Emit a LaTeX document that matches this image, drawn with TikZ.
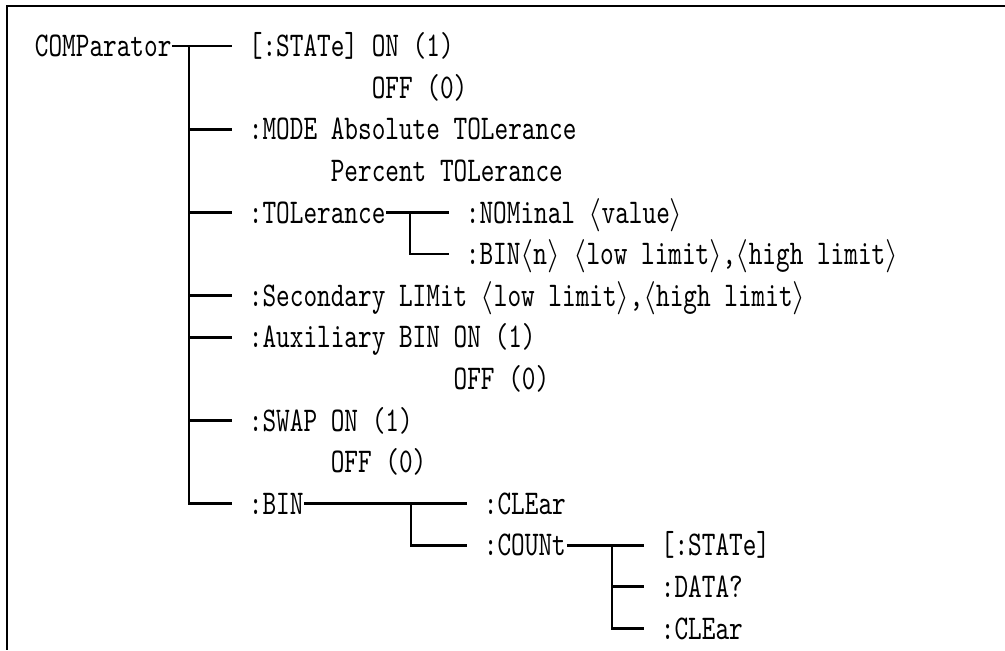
\documentclass[tikz,border=0pt]{standalone}
\usepackage{fontspec}
\newfontfamily\scpifont{lmmono10-regular.otf}[FakeStretch=0.75]
\usetikzlibrary{positioning}
\newcommand{\angl}{\ensuremath{\langle}}
\newcommand{\angr}{\ensuremath{\rangle}}
\tikzset{
  cmd/.style={
    font = \scpifont\fontsize{26pt}{30pt}\selectfont,
    anchor = west,
    inner xsep = 0.5pt,
    inner ysep = 0pt,
    text height = 16pt,
    text depth = 0pt
  },
  branch/.style={
    line width = 2pt,
    shorten > = 12pt
  },
  frame/.style={
    line width = 1.5pt
  }
}

\begin{document}
\begin{tikzpicture}[x=0.75pt, y=-0.75pt]
    \def\dy{41.6}
    \useasboundingbox (0,0) rectangle (1005,650);
    \draw[frame] (1005,6) -- (7,6) -- (7,650);

    \node[cmd] (comp) at (34, 46) {COMParator};
    \node[cmd] (state) at (248, 46) {[:STATe] ON (1)};
    \node[cmd] (off1) at (248, 46+\dy) {\phantom{[:STATe] }OFF (0)};
    \node[cmd] (mode) at (248, 46+2*\dy) {:MODE Absolute TOLerance};
    \node[cmd] (pct) at (248, 46+3*\dy) {\phantom{:MODE }Percent TOLerance};
    \node[cmd] (tol) at (248, 46+4*\dy) {:TOLerance};
    \node[cmd] (nom) at (465, 46+4*\dy) {:NOMinal \angl value\angr};
    \node[cmd] (binn) at (465, 46+5*\dy) {:BIN\angl n\angr\ \angl low limit\angr,\angl high limit\angr};
    \node[cmd] (sec) at (248, 46+6*\dy) {:Secondary LIMit \angl low limit\angr,\angl high limit\angr};
    \node[cmd] (aux) at (248, 46+7*\dy) {:Auxiliary BIN ON (1)};
    \node[cmd] (off2) at (248, 46+8*\dy) {\phantom{:Auxiliary BIN }OFF (0)};
    \node[cmd] (swap) at (248, 46+9*\dy) {:SWAP ON (1)};
    \node[cmd] (off3) at (248, 46+10*\dy) {\phantom{:SWAP }OFF (0)};
    \node[cmd] (bin) at (248, 46+11*\dy) {:BIN};
    \node[cmd] (clr) at (483, 46+11*\dy) {:CLEar};
    \node[cmd] (cnt) at (483, 46+12*\dy) {:COUNt};
    \node[cmd] (stat) at (660, 46+12*\dy) {[:STATe]};
    \node[cmd] (data) at (660, 46+13*\dy) {:DATA?};
    \node[cmd] (clr2) at (660, 46+14*\dy) {:CLEar};

    \coordinate (trunk) at (189, 46);
    \coordinate (tolfork) at (410, 46+4*\dy);
    \coordinate (binfork) at (411, 46+11*\dy);
    \coordinate (cntfork) at (612, 46+12*\dy);

    \draw[branch] (comp.east) -- (state.west);
    \draw[branch] (trunk) |- (bin.west);
    \foreach \n in {mode,tol,sec,aux,swap}
        \draw[branch] (trunk |- \n.west) -- (\n.west);
    \draw[branch] (tol.east) -- (nom.west);
    \draw[branch] (tolfork) |- (binn.west);
    \draw[branch] (bin.east) -- (clr.west);
    \draw[branch] (binfork) |- (cnt.west);
    \draw[branch] (cnt.east) -- (stat.west);
    \draw[branch] (cntfork) |- (clr2.west);
    \draw[branch] (cntfork |- data.west) -- (data.west);
\end{tikzpicture}
\end{document}
